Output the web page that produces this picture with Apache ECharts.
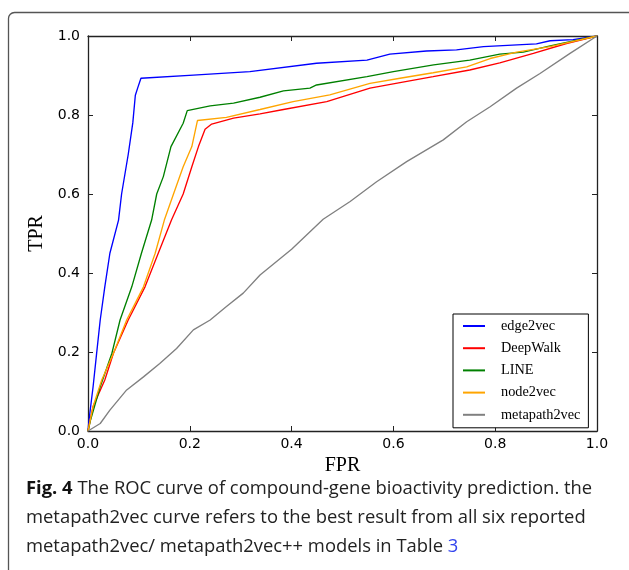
<!DOCTYPE html>
<html>
<head>
<meta charset="utf-8">
<script src="https://cdn.jsdelivr.net/npm/echarts@6/dist/echarts.min.js"></script>
<style>
html,body{margin:0;padding:0;background:#fff;}
#chart{width:629px;height:570px;}
</style>
</head>
<body>
<div id="chart"></div>
<script>
// Series names (legend order)
const seriesNames = ['edge2vec', 'DeepWalk', 'LINE', 'node2vec', 'metapath2vec'];
// Tick labels
const tickLabels = ['0.0', '0.2', '0.4', '0.6', '0.8', '1.0'];

// [FPR, TPR] points
const edge2vecData = [
  [0,0],[0.002,0.028],[0.010,0.112],[0.017,0.197],[0.024,0.281],[0.033,0.365],
  [0.043,0.45],[0.060,0.534],[0.066,0.60],[0.079,0.70],[0.088,0.78],[0.093,0.85],
  [0.098,0.87],[0.104,0.893],[0.207,0.901],[0.318,0.910],[0.449,0.931],[0.548,0.939],
  [0.593,0.954],[0.665,0.962],[0.724,0.965],[0.777,0.973],[0.881,0.980],[0.908,0.988],
  [0.953,0.991],[1,1]
];
const deepWalkData = [
  [0,0],[0.010,0.062],[0.033,0.129],[0.050,0.197],[0.079,0.281],[0.112,0.365],
  [0.138,0.45],[0.164,0.534],[0.187,0.60],[0.204,0.669],[0.217,0.72],[0.230,0.764],
  [0.243,0.777],[0.286,0.792],[0.338,0.803],[0.384,0.814],[0.469,0.834],[0.554,0.868],
  [0.613,0.882],[0.678,0.897],[0.750,0.914],[0.809,0.932],[0.875,0.956],[0.940,0.981],[1,1]
];
const lineData = [
  [0,0],[0.005,0.028],[0.024,0.112],[0.047,0.197],[0.063,0.281],[0.086,0.365],
  [0.105,0.45],[0.125,0.534],[0.135,0.60],[0.148,0.644],[0.163,0.72],[0.187,0.779],
  [0.195,0.811],[0.240,0.823],[0.286,0.830],[0.338,0.845],[0.384,0.861],[0.436,0.868],
  [0.449,0.876],[0.548,0.897],[0.600,0.910],[0.679,0.927],[0.750,0.939],[0.809,0.954],
  [0.855,0.959],[0.908,0.975],[1,1]
];
const node2vecData = [
  [0,0],[0.010,0.062],[0.027,0.129],[0.050,0.197],[0.076,0.281],[0.109,0.365],
  [0.132,0.45],[0.150,0.534],[0.168,0.60],[0.187,0.669],[0.204,0.72],[0.215,0.786],
  [0.272,0.794],[0.338,0.814],[0.403,0.834],[0.475,0.851],[0.554,0.880],[0.613,0.893],
  [0.678,0.907],[0.744,0.922],[0.790,0.943],[0.842,0.959],[0.908,0.973],[1,1]
];
const metapath2vecData = [
  [0,0],[0.024,0.019],[0.043,0.053],[0.076,0.104],[0.109,0.137],[0.141,0.171],
  [0.174,0.209],[0.207,0.256],[0.240,0.281],[0.272,0.315],[0.305,0.349],[0.338,0.395],
  [0.400,0.46],[0.462,0.536],[0.515,0.581],[0.567,0.631],[0.626,0.682],[0.698,0.737],
  [0.744,0.783],[0.790,0.821],[0.842,0.868],[0.888,0.905],[0.947,0.956],[1,1]
];

const allData = [edge2vecData, deepWalkData, lineData, node2vecData, metapath2vecData];
const colors = ['#0000ff', '#ff0000', '#008000', '#ffa500', '#808080'];

const chart = echarts.init(document.getElementById('chart'), null, {renderer: 'canvas'});
const frameColor = '#222';
const tickFont = 'DejaVu Sans';
const serif = 'Liberation Serif';
const capFont = 'Open Sans';
const capSize = 18.4;

function fmt(v){ return tickLabels[Math.round(v / 0.2)]; }

const baseAxis = {
  type: 'value', min: 0, max: 1, interval: 0.2,
  axisLine: {show: true, onZero: false, lineStyle: {color: frameColor, width: 1.3}},
  axisTick: {show: true, inside: true, length: 5, lineStyle: {color: frameColor, width: 1}},
  splitLine: {show: false}
};

const option = {
  animation: false,
  backgroundColor: '#fff',
  grid: {left: 88, top: 36, right: 32, bottom: 139, containLabel: false},
  xAxis: [
    Object.assign({}, baseAxis, {
      position: 'bottom',
      axisLabel: {formatter: fmt, fontFamily: tickFont, fontSize: 14, color: '#000', margin: 6},
      name: 'FPR', nameLocation: 'middle', nameGap: 22,
      nameTextStyle: {fontFamily: serif, fontSize: 20, color: '#000'}
    }),
    Object.assign({}, baseAxis, {position: 'top', axisLabel: {show: false}})
  ],
  yAxis: [
    Object.assign({}, baseAxis, {
      position: 'left',
      axisLabel: {formatter: fmt, fontFamily: tickFont, fontSize: 14, color: '#000', margin: 8},
      name: 'TPR', nameLocation: 'middle', nameGap: 40,
      nameTextStyle: {fontFamily: serif, fontSize: 20, color: '#000'}
    }),
    Object.assign({}, baseAxis, {position: 'right', axisLabel: {show: false}})
  ],
  legend: {
    orient: 'vertical', left: 453, top: 314,
    data: seriesNames,
    backgroundColor: '#fff', borderColor: '#000', borderWidth: 1, borderRadius: 0,
    padding: [5, 8, 6, 10], itemGap: 8.2,
    icon: 'rect', itemWidth: 22, itemHeight: 2,
    textStyle: {fontFamily: serif, fontSize: 14.3, color: '#000', padding: [0, 0, 0, 11]}
  },
  series: seriesNames.map((n, i) => ({
    name: n, type: 'line', data: allData[i],
    xAxisIndex: 0, yAxisIndex: 0,
    showSymbol: false, symbol: 'none',
    color: colors[i],
    lineStyle: {color: colors[i], width: 1.35},
    itemStyle: {color: colors[i]},
    z: 2 + i
  })),
  graphic: [
    {type: 'rect', silent: true, z: -10,
     shape: {x: 8.5, y: 12.5, width: 700, height: 700, r: 6},
     style: {fill: 'none', stroke: '#555', lineWidth: 1.3}},
    {type: 'text', x: 26, y: 489, silent: true,
     style: {text: '{b|Fig. 4} The ROC curve of compound-gene bioactivity prediction. the',
             fontFamily: capFont, fontSize: capSize, fill: '#222', verticalAlign: 'middle',
             rich: {b: {fontWeight: 'bold', fontFamily: capFont, fontSize: capSize, fill: '#111'}}}},
    {type: 'text', x: 26, y: 518, silent: true,
     style: {text: 'metapath2vec curve refers to the best result from all six reported',
             fontFamily: capFont, fontSize: capSize, fill: '#222', verticalAlign: 'middle'}},
    {type: 'text', x: 26, y: 547, silent: true,
     style: {text: 'metapath2vec/ metapath2vec++ models in Table {l|3}',
             fontFamily: capFont, fontSize: capSize, fill: '#222', verticalAlign: 'middle',
             rich: {l: {fill: '#3344ee', fontFamily: capFont, fontSize: capSize}}}}
  ]
};
chart.setOption(option);
</script>
</body>
</html>
